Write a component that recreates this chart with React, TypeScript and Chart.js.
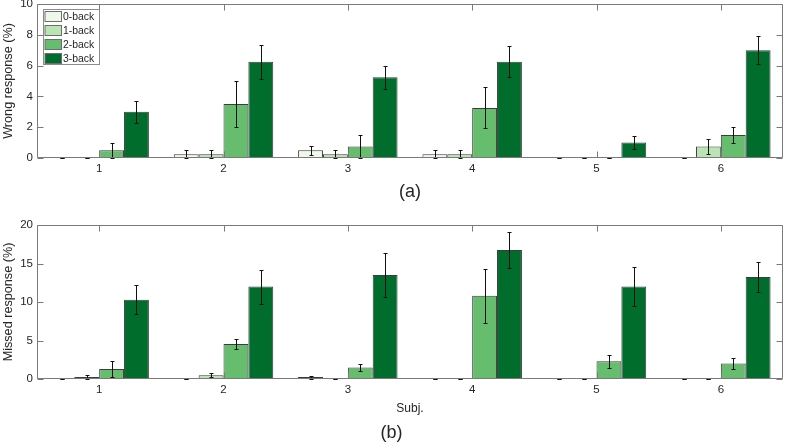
import React, { useEffect, useRef } from "react";
import { Chart, registerables } from "chart.js";
Chart.register(...registerables);

const subjects = ["1", "2", "3", "4", "5", "6"];
const seriesLabels = ["0-back", "1-back", "2-back", "3-back"];
const seriesColors = ["#edf8e9", "#bae4b3", "#66bd6e", "#006d2c"];

const wrongTicks = [0, 2, 4, 6, 8, 10];
const missedTicks = [0, 5, 10, 15, 20];

const wrong0 = [0, 0.25, 0.5, 0.25, 0, 0];
const wrong1 = [0, 0.25, 0.25, 0.25, 0, 0.75];
const wrong2 = [0.5, 3.5, 0.75, 3.25, 0, 1.5];
const wrong3 = [3.0, 6.25, 5.25, 6.25, 1.0, 7.0];
const wrongErr0 = [0, 0.25, 0.3, 0.25, 0, 0];
const wrongErr1 = [0, 0.25, 0.25, 0.25, 0, 0.5];
const wrongErr2 = [0.5, 1.5, 0.75, 1.33, 0, 0.5];
const wrongErr3 = [0.7, 1.1, 0.75, 1.0, 0.4, 0.9];

const missed0 = [0, 0, 0.25, 0, 0, 0];
const missed1 = [0.25, 0.5, 0, 0, 0, 0];
const missed2 = [1.3, 4.55, 1.5, 10.8, 2.3, 2.0];
const missed3 = [10.3, 12.0, 13.5, 16.75, 12.0, 13.25];
const missedErr0 = [0, 0, 0.2, 0, 0, 0];
const missedErr1 = [0.25, 0.3, 0, 0, 0, 0];
const missedErr2 = [1.0, 0.7, 0.5, 3.55, 0.85, 0.7];
const missedErr3 = [1.85, 2.2, 2.9, 2.3, 2.5, 2.0];

const FONT = "'Liberation Sans', Arial, Helvetica, sans-serif";
const TEXT = "#262626";
Chart.defaults.font.family = FONT;
Chart.defaults.color = TEXT;

const errorBarPlugin = {
  id: "errorBars",
  afterDatasetsDraw(chart: any, _args: any, opts: any) {
    const errs: number[][] = opts.errors || [];
    const ctx = chart.ctx;
    const y = chart.scales.y;
    ctx.save();
    ctx.strokeStyle = "#111111";
    ctx.lineWidth = 1;
    chart.data.datasets.forEach((ds: any, i: number) => {
      const meta = chart.getDatasetMeta(i);
      meta.data.forEach((el: any, j: number) => {
        const v = ds.data[j];
        const e = (errs[i] || [])[j] || 0;
        const x = Math.round(el.x) + 0.5;
        const yt = Math.round(y.getPixelForValue(v + e)) + 0.5;
        const yb = Math.round(y.getPixelForValue(v - e)) + 0.5;
        ctx.beginPath();
        ctx.moveTo(x, yt);
        ctx.lineTo(x, yb);
        ctx.moveTo(x - 2, yt);
        ctx.lineTo(x + 2, yt);
        ctx.moveTo(x - 2, yb);
        ctx.lineTo(x + 2, yb);
        ctx.stroke();
      });
    });
    ctx.restore();
  },
};

const framePlugin = {
  id: "frameTicks",
  afterDatasetsDraw(chart: any) {
    const ctx = chart.ctx;
    const { left, right, top, bottom } = chart.chartArea;
    const L = Math.round(left) + 0.5;
    const R = Math.round(right) - 0.5;
    const T = Math.round(top) + 0.5;
    const B = Math.round(bottom) - 0.5;
    const tl = 6;
    ctx.save();
    ctx.strokeStyle = "#7a7a7a";
    ctx.lineWidth = 1;
    ctx.beginPath();
    chart.scales.y.ticks.forEach((t: any) => {
      const py = Math.round(chart.scales.y.getPixelForValue(t.value)) + 0.5;
      ctx.moveTo(L, py);
      ctx.lineTo(L + tl, py);
      ctx.moveTo(R, py);
      ctx.lineTo(R - tl, py);
    });
    chart.scales.x.ticks.forEach((_t: any, i: number) => {
      const px = Math.round(chart.scales.x.getPixelForTick(i)) + 0.5;
      ctx.moveTo(px, T);
      ctx.lineTo(px, T + tl);
      ctx.moveTo(px, B);
      ctx.lineTo(px, B - tl);
    });
    ctx.stroke();
    ctx.beginPath();
    ctx.rect(L, T, R - L, B - T);
    ctx.stroke();
    ctx.restore();
  },
};

const boxLegendPlugin = {
  id: "boxLegend",
  afterDraw(chart: any, _args: any, opts: any) {
    if (!opts.display) return;
    const ctx = chart.ctx;
    const ca = chart.chartArea;
    const lx = Math.round(ca.left + 5.5) + 0.5;
    const ly = Math.round(ca.top + 5.3) + 0.5;
    const w = 56;
    const h = 55;
    const pitch = 13.8;
    ctx.save();
    ctx.fillStyle = "#ffffff";
    ctx.fillRect(lx, ly, w, h);
    ctx.strokeStyle = "#8c8c8c";
    ctx.lineWidth = 1;
    ctx.strokeRect(lx, ly, w, h);
    ctx.font = "10.4px " + FONT;
    ctx.textBaseline = "middle";
    ctx.textAlign = "left";
    chart.data.datasets.forEach((ds: any, i: number) => {
      const sy = Math.round(ly + 1.7 + i * pitch) + 0.5;
      ctx.fillStyle = ds.backgroundColor;
      ctx.fillRect(lx + 1.5, sy, 16.5, 10);
      ctx.strokeStyle = "#6e6e6e";
      ctx.strokeRect(lx + 1.5, sy, 16.5, 10);
      ctx.fillStyle = TEXT;
      ctx.fillText(ds.label, lx + 19.5, sy + 5.5);
    });
    ctx.restore();
  },
};

function makeConfig(p: any) {
  const datasets = p.values.map((vals: number[], i: number) => ({
    label: seriesLabels[i],
    data: vals,
    backgroundColor: seriesColors[i],
    borderColor: "#3c3c3c",
    borderWidth: 1,
    borderSkipped: false,
    categoryPercentage: 0.8,
    barPercentage: 1.0,
  }));
  return {
    type: "bar",
    data: { labels: subjects, datasets },
    plugins: [errorBarPlugin, framePlugin, boxLegendPlugin],
    options: {
      animation: false,
      responsive: false,
      events: [],
      layout: { padding: { top: p.padTop, right: 2, left: 0, bottom: 0 } },
      plugins: {
        legend: { display: false },
        tooltip: { enabled: false },
        title: p.bottomTitle
          ? {
              display: true,
              position: "bottom",
              text: p.bottomTitle,
              color: TEXT,
              font: { size: 18, weight: "normal", family: FONT },
              padding: 0,
            }
          : { display: false },
        errorBars: { errors: p.errors },
        boxLegend: { display: p.legend },
      },
      scales: {
        x: {
          type: "category",
          offset: true,
          grid: { display: false, drawTicks: false, tickLength: 0 },
          border: { display: false },
          ticks: { padding: 4, color: TEXT, font: { size: 11.5 }, maxRotation: 0 },
          title: {
            display: true,
            text: p.xTitle,
            color: TEXT,
            font: { size: p.xTitleSize, family: FONT },
            padding: { top: 0, bottom: p.xTitlePadBottom },
          },
          afterFit(scale: any) {
            scale.height = p.xHeight;
            scale.paddingLeft = 0;
            scale.paddingRight = 0;
          },
        },
        y: {
          min: 0,
          max: p.yMax,
          grid: { display: false, drawTicks: false, tickLength: 0 },
          border: { display: false },
          afterBuildTicks(scale: any) {
            scale.ticks = p.yTicks.map((v: number) => ({ value: v }));
          },
          ticks: { padding: 4, color: TEXT, font: { size: 11.5 } },
          title: {
            display: true,
            text: p.yTitle,
            color: TEXT,
            font: { size: 12.65, family: FONT },
            padding: { top: 0.7, bottom: 0 },
          },
          afterFit(scale: any) {
            scale.width = 37;
            scale.paddingTop = 0;
            scale.paddingBottom = 0;
          },
        },
      },
    },
  };
}

function BarPanel(props: any) {
  const ref = useRef<HTMLCanvasElement | null>(null);
  useEffect(() => {
    if (!ref.current) return;
    const chart = new Chart(ref.current, makeConfig(props.cfg) as any);
    return () => chart.destroy();
  }, []);
  return (
    <canvas
      ref={ref}
      width={785}
      height={props.height}
      style={{ display: "block", width: 785, height: props.height }}
    />
  );
}

export default function App() {
  const topCfg = {
    values: [wrong0, wrong1, wrong2, wrong3],
    errors: [wrongErr0, wrongErr1, wrongErr2, wrongErr3],
    yMax: 10,
    yTicks: wrongTicks,
    yTitle: "Wrong response (%)",
    xTitle: "(a)",
    xTitleSize: 18,
    xTitlePadBottom: 2.5,
    xHeight: 47,
    padTop: 4,
    legend: true,
    bottomTitle: null,
  };
  const bottomCfg = {
    values: [missed0, missed1, missed2, missed3],
    errors: [missedErr0, missedErr1, missedErr2, missedErr3],
    yMax: 20,
    yTicks: missedTicks,
    yTitle: "Missed response (%)",
    xTitle: "Subj.",
    xTitleSize: 12,
    xTitlePadBottom: 6.9,
    xHeight: 43.4,
    padTop: 20,
    legend: false,
    bottomTitle: "(b)",
  };
  return (
    <div style={{ position: "fixed", left: 0, top: 0, width: 785, height: 444, background: "#ffffff" }}>
      <BarPanel cfg={topCfg} height={205} />
      <BarPanel cfg={bottomCfg} height={239} />
    </div>
  );
}
